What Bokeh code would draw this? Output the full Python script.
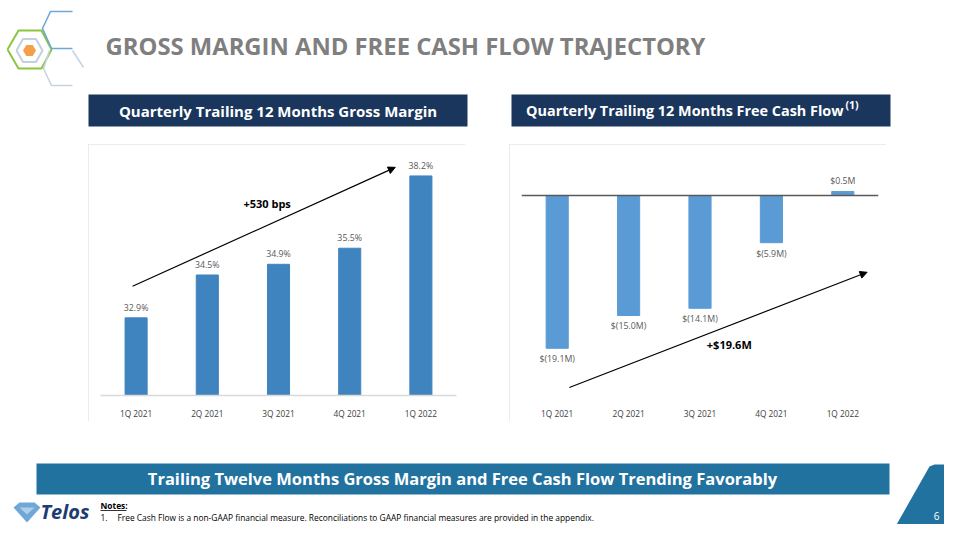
from bokeh.plotting import figure
from bokeh.models import (Range1d, FactorRange, ColumnDataSource, LabelSet, Label,
                          Arrow, NormalHead, Span, Spacer)
from bokeh.layouts import column, row
from bokeh.core.properties import value
from bokeh.embed import file_html
from bokeh.resources import INLINE

# ---------------- data ----------------
quarters = ["1Q 2021", "2Q 2021", "3Q 2021", "4Q 2021", "1Q 2022"]
gross_margin = [32.9, 34.5, 34.9, 35.5, 38.2]
gm_labels = ["32.9%", "34.5%", "34.9%", "35.5%", "38.2%"]
free_cash_flow = [-19.1, -15.0, -14.1, -5.9, 0.5]
fcf_labels = ["$(19.1M)", "$(15.0M)", "$(14.1M)", "$(5.9M)", "$0.5M"]

title_text = "GROSS MARGIN AND FREE CASH FLOW TRAJECTORY"
gm_header = "Quarterly Trailing 12 Months Gross Margin"
fcf_header = "Quarterly Trailing 12 Months Free Cash Flow"
fcf_header_sup = "(1)"
gm_change = "+530 bps"
fcf_change = "+$19.6M"
banner_text = "Trailing Twelve Months Gross Margin and Free Cash Flow Trending Favorably"
notes_title = "Notes:"
note_1 = "Free Cash Flow is a non-GAAP financial measure. Reconciliations to GAAP financial measures are provided in the appendix."
page_number = "6"

FONT = "Open Sans"
NAVY = "#1a365d"
BANNER = "#22729f"


def canvas(w, h, x0, x1, y0, y1):
    p = figure(width=w, height=h, x_range=Range1d(x0, x1), y_range=Range1d(y1, y0),
               x_axis_type=None, y_axis_type=None, toolbar_location=None,
               output_backend="svg", min_border=0, outline_line_color=None,
               background_fill_color="white", border_fill_color="white")
    return p


def txt(p, x, y, s, size, color, bold=False, align="left", baseline="middle", italic=False):
    style = "bold" if bold else "normal"
    if italic:
        style = "bold italic" if bold else "italic"
    p.text(x=[x], y=[y], text=[s], text_font=value(FONT), text_font_size=size,
           text_font_style=style, text_color=color, text_align=align,
           text_baseline=baseline)


# ---------------- top band ----------------
top = canvas(944, 144, 0, 944, 0, 144)
# logo hexagons
top.multi_line(xs=[[7, 18, 41, 51, 41, 18, 7]], ys=[[49, 30, 30, 49, 68, 68, 49]],
               line_color="#8cc63e", line_width=2)
top.multi_line(xs=[[16, 22.5, 35.5, 42, 35.5, 22.5, 16]], ys=[[50, 38.5, 38.5, 50, 61.5, 61.5, 50]],
               line_color="#c3d1df", line_width=2)
top.patch(x=[22.5, 25.8, 32.2, 35.5, 32.2, 25.8], y=[50, 44.4, 44.4, 50, 55.6, 55.6],
          fill_color="#f4a04a", line_color=None)
top.multi_line(xs=[[72, 50, 42, 51, 72]], ys=[[11, 11, 28, 48, 48]],
               line_color="#6ea8d9", line_width=1.6)
top.multi_line(xs=[[72, 83], [49, 43, 51, 72]], ys=[[50, 67], [50, 68, 85, 85]],
               line_color="#c6d4e2", line_width=1.6)
# title
txt(top, 105, 45, title_text, "23.8px", "#7f7f7f", bold=True)
# header bars
top.quad(left=[88, 511], right=[467, 890], top=[94, 94], bottom=[126, 126],
         fill_color=NAVY, line_color=None)
txt(top, 277.5, 110, gm_header, "15px", "white", bold=True, align="center")
txt(top, 843, 110, fcf_header, "14.4px", "white", bold=True, align="right")
txt(top, 845, 104, fcf_header_sup, "10.5px", "white", bold=True, align="left")


# ---------------- charts ----------------
def chart(ymin, ymax, right_border, axis_color):
    p = figure(width=377, height=277, x_range=FactorRange(factors=quarters),
               y_range=Range1d(ymin, ymax), toolbar_location=None, output_backend="svg",
               y_axis_location=None, min_border_left=12, min_border_right=right_border,
               min_border_top=6, min_border_bottom=24, outline_line_color=None,
               background_fill_color="white", border_fill_color="white")
    p.xgrid.visible = False
    p.ygrid.visible = False
    p.xaxis.axis_line_color = axis_color
    p.xaxis.axis_line_width = 1.5
    p.xaxis.major_tick_line_color = None
    p.xaxis.minor_tick_line_color = None
    p.xaxis.major_label_text_font = FONT
    p.xaxis.major_label_text_font_size = "8.3px"
    p.xaxis.major_label_text_color = "#404040"
    p.xaxis.major_label_standoff = 6
    p.styles = {"outline": "1px solid #e6e6e6", "outline-offset": "-1px"}
    return p


LABEL_SIZE = "8.8px"

# Gross margin chart
gm = chart(30.0, 39.15, 9, "#d9d9d9")
gm_src = ColumnDataSource(dict(q=quarters, v=gross_margin, lab=gm_labels))
gm.vbar(x="q", top="v", bottom=0, width=0.31, source=gm_src,
        fill_color="#3f84bf", line_color="#3f84bf")
gm.add_layout(LabelSet(x="q", y="v", text="lab", source=gm_src, y_offset=4,
                       text_align="center", text_baseline="bottom",
                       text_font=value(FONT), text_font_size=LABEL_SIZE, text_color="#595959"))
gm.add_layout(Arrow(end=NormalHead(size=7, fill_color="black", line_color="black"),
                    x_start=0.45, y_start=34.08, x_end=4.14, y_end=38.52,
                    line_color="black", line_width=1.2))
gm.add_layout(Label(x=2.34, y=37.18, text=gm_change, text_align="center",
                    text_baseline="middle", text_font=FONT, text_font_size="11px",
                    text_font_style="bold", text_color="black"))

# Free cash flow chart
fc = chart(-25.0, 5.62, 8, None)
fc_src = ColumnDataSource(dict(q=quarters, v=free_cash_flow, lab=fcf_labels))
fc.vbar(x="q", top="v", bottom=0, width=0.31, source=fc_src,
        fill_color="#5b9bd5", line_color="#5b9bd5")
fc.add_layout(Span(location=0, dimension="width", line_color="#595959", line_width=1.5))
neg = [i for i, v in enumerate(free_cash_flow) if v < 0]
pos = [i for i, v in enumerate(free_cash_flow) if v >= 0]
neg_src = ColumnDataSource(dict(q=[quarters[i] for i in neg], v=[free_cash_flow[i] for i in neg],
                                lab=[fcf_labels[i] for i in neg]))
pos_src = ColumnDataSource(dict(q=[quarters[i] for i in pos], v=[free_cash_flow[i] for i in pos],
                                lab=[fcf_labels[i] for i in pos]))
fc.add_layout(LabelSet(x="q", y="v", text="lab", source=neg_src, y_offset=-5,
                       text_align="center", text_baseline="top",
                       text_font=value(FONT), text_font_size=LABEL_SIZE, text_color="#595959"))
fc.add_layout(LabelSet(x="q", y="v", text="lab", source=pos_src, y_offset=4,
                       text_align="center", text_baseline="bottom",
                       text_font=value(FONT), text_font_size=LABEL_SIZE, text_color="#595959"))
fc.add_layout(Arrow(end=NormalHead(size=7, fill_color="black", line_color="black"),
                    x_start=0.67, y_start=-24.0, x_end=4.84, y_end=-9.6,
                    line_color="black", line_width=1.2))
fc.add_layout(Label(x=2.91, y=-18.65, text=fcf_change, text_align="center",
                    text_baseline="middle", text_font=FONT, text_font_size="11px",
                    text_font_style="bold", text_color="black"))

middle = row(Spacer(width=88, height=277), gm, Spacer(width=44, height=277), fc,
             Spacer(width=58, height=277))

# ---------------- bottom band ----------------
bot = canvas(944, 103, 0, 944, 421, 524)
bot.quad(left=[36], right=[889], top=[463], bottom=[494], fill_color=BANNER, line_color=None)
txt(bot, 462, 478, banner_text, "16.5px", "white", bold=True, align="center")
bot.patch(x=[929, 934, 960, 960, 887], y=[466, 464, 464, 540, 540],
          fill_color=BANNER, line_color=None)
txt(bot, 936, 515, page_number, "10px", "white", align="center")
# Telos logo
bot.patch(x=[13, 19, 34, 40, 26.5], y=[507, 502, 502, 507, 522], fill_color="#6fa7d8", line_color=None)
bot.patch(x=[19, 34, 26.5], y=[507, 507, 514], fill_color="#ffffff", fill_alpha=0.45, line_color=None)
txt(bot, 40, 511, "Telos", "20px", "#1d3c72", bold=True, italic=True)
# notes
txt(bot, 100, 505, notes_title, "8.4px", "#000000", bold=True)
bot.segment(x0=[100], y0=[510], x1=[126], y1=[510], line_color="black", line_width=0.8)
txt(bot, 100, 517, "1.", "8.4px", "#000000")
txt(bot, 117, 517, note_1, "8.4px", "#000000")

layout = column(top, middle, bot)
open("out.html", "w").write(file_html(layout, INLINE))
